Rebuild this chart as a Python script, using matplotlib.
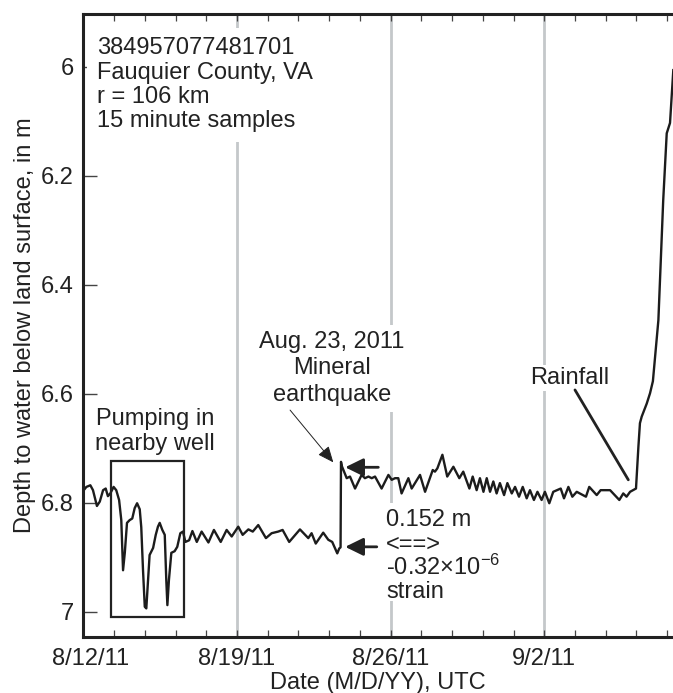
import matplotlib
matplotlib.use('Agg')
import matplotlib.pyplot as plt
from matplotlib.patches import Rectangle
from matplotlib.ticker import MultipleLocator
import matplotlib.transforms as mtransforms

plt.rcParams['font.family'] = ['Liberation Sans', 'DejaVu Sans']
plt.rcParams['mathtext.default'] = 'regular'

# Time in days since 8/12/11 00:00 UTC, depth to water in m
days = [0.00, 0.14, 0.32, 0.44, 0.62, 0.75, 0.90, 1.02, 1.12, 1.23, 1.38, 1.50,
        1.63, 1.73, 1.81, 1.89, 1.99, 2.11, 2.23, 2.34, 2.45, 2.57, 2.64, 2.72,
        2.80, 2.87, 2.95, 3.02, 3.18, 3.30, 3.40, 3.48, 3.60, 3.71, 3.78, 3.83,
        3.90, 4.01, 4.16, 4.28, 4.42, 4.54, 4.65, 4.82, 4.97,
        5.17, 5.39, 5.70, 5.95, 6.26, 6.53, 6.76, 7.06, 7.26, 7.52, 7.72, 7.97,
        8.32, 8.58, 8.88, 9.08, 9.38, 9.87, 10.25, 10.40, 10.59, 10.93, 11.16,
        11.34, 11.57, 11.66, 11.72, 11.74, 11.78,
        12.00, 12.15, 12.38, 12.68, 12.83, 12.99, 13.14, 13.29, 13.59, 13.90,
        14.05, 14.20, 14.35, 14.50, 14.81, 14.96, 15.34, 15.57, 15.92, 16.02,
        16.13, 16.36, 16.58, 16.86, 17.13, 17.31, 17.59, 17.74, 17.92, 18.07,
        18.23, 18.38, 18.53, 18.68, 18.83, 18.98, 19.17, 19.32, 19.52, 19.67,
        19.85, 20.02, 20.20, 20.35, 20.53, 20.69, 20.88, 21.03, 21.23, 21.41,
        21.75, 21.90, 22.10, 22.28, 22.48, 22.90, 23.05, 23.39, 23.57, 24.00,
        24.42, 24.60, 24.75, 24.91, 25.18,
        25.29, 25.36, 25.44, 25.67, 25.82, 25.95, 26.20, 26.42, 26.58, 26.73,
        26.88]
depth = [6.778, 6.771, 6.768, 6.777, 6.806, 6.798, 6.777, 6.774, 6.788, 6.783, 6.771, 6.777,
         6.795, 6.832, 6.924, 6.892, 6.837, 6.832, 6.829, 6.810, 6.801, 6.812, 6.845, 6.924,
         6.991, 6.994, 6.942, 6.896, 6.883, 6.859, 6.844, 6.837, 6.850, 6.859, 6.942, 6.988,
         6.942, 6.892, 6.889, 6.881, 6.856, 6.853, 6.872, 6.869, 6.852,
         6.872, 6.853, 6.873, 6.850, 6.872, 6.850, 6.862, 6.844, 6.859, 6.849, 6.853, 6.841,
         6.865, 6.856, 6.853, 6.850, 6.872, 6.849, 6.865, 6.856, 6.875, 6.855, 6.868,
         6.872, 6.893, 6.884, 6.882, 6.725, 6.733,
         6.755, 6.752, 6.774, 6.749, 6.755, 6.752, 6.755, 6.752, 6.774, 6.749,
         6.758, 6.755, 6.755, 6.783, 6.755, 6.774, 6.749, 6.780, 6.740, 6.743,
         6.737, 6.712, 6.752, 6.734, 6.755, 6.743, 6.774, 6.752, 6.777, 6.755,
         6.780, 6.755, 6.780, 6.761, 6.783, 6.764, 6.786, 6.764, 6.783, 6.771,
         6.789, 6.771, 6.792, 6.777, 6.795, 6.780, 6.795, 6.780, 6.801, 6.780,
         6.774, 6.792, 6.771, 6.789, 6.780, 6.789, 6.771, 6.786, 6.777, 6.777,
         6.795, 6.783, 6.789, 6.780, 6.774,
         6.697, 6.654, 6.642, 6.618, 6.599, 6.577, 6.465, 6.245, 6.122, 6.103,
         6.006]

tick_days = [0, 7, 14, 21]
tick_labels = ['8/12/11', '8/19/11', '8/26/11', '9/2/11']
y_ticks = [6.0, 6.2, 6.4, 6.6, 6.8, 7.0]
y_tick_labels = ['6', '6.2', '6.4', '6.6', '6.8', '7']

TXT = '#222222'
FS = 17

fig = plt.figure(figsize=(6.73, 6.93), dpi=100)
ax = fig.add_axes([0.1238, 0.0812, 0.8762, 0.8986])

for d in tick_days:
    ax.axvline(d, color='#c4c8ca', lw=2.0, zorder=0.5)

ax.plot(days, depth, color='#1c1c1c', lw=1.7, zorder=2)

ax.set_xlim(0, 26.866)
ax.set_ylim(7.046, 5.903)

ax.set_xticks(tick_days)
ax.set_xticklabels(tick_labels)
ax.xaxis.set_minor_locator(MultipleLocator(1.4))
ax.set_yticks(y_ticks)
ax.set_yticklabels(y_tick_labels)
ax.tick_params(axis='x', which='both', direction='in', top=True, bottom=True,
               length=5, width=0.9, color='#444444', pad=8, labelsize=FS,
               labelcolor=TXT)
ax.tick_params(axis='y', which='major', direction='in', left=True, right=False,
               length=10, width=1.0, color='#444444', pad=7, labelsize=FS,
               labelcolor=TXT)

for s in ['left', 'top', 'bottom']:
    ax.spines[s].set_linewidth(2.2)
    ax.spines[s].set_color('#222222')
ax.spines['right'].set_visible(False)

first = ax.get_xticklabels()[0]
first.set_transform(first.get_transform() +
                    mtransforms.ScaledTranslation(7 / 100, 0, fig.dpi_scale_trans))

ax.set_xlabel('Date (M/D/YY), UTC', fontsize=FS, color=TXT, labelpad=1.5)
ax.set_ylabel('Depth to water below land surface, in m', fontsize=FS, color=TXT,
              labelpad=3)

white = dict(facecolor='white', edgecolor='none')

ax.text(0.624, 5.946, '384957077481701\nFauquier County, VA\nr = 106 km\n15 minute samples',
        ha='left', va='top', fontsize=FS, color=TXT, linespacing=1.13,
        bbox=dict(white, pad=7), zorder=3)

ax.add_patch(Rectangle((1.27, 6.7235), 4.59 - 1.27, 7.010 - 6.7235,
                       fill=False, edgecolor='#222222', lw=1.6, zorder=2))
ax.text(3.27, 6.669, 'Pumping in\nnearby well', ha='center', va='center',
        fontsize=FS, color=TXT, linespacing=1.19, zorder=3)

ax.text(11.33, 6.553, 'Aug. 23, 2011\nMineral\nearthquake', ha='center', va='center',
        multialignment='center', fontsize=FS, color=TXT, linespacing=1.26,
        bbox=dict(white, pad=4.5), zorder=3)
ax.annotate('', xy=(11.39, 6.726), xytext=(9.42, 6.630),
            arrowprops=dict(arrowstyle='-|>,head_length=0.7,head_width=0.3',
                            lw=0.7, color='#222222', shrinkA=0, shrinkB=0,
                            mutation_scale=14), zorder=3)

for yv, x_tail in [(6.735, 13.44), (6.881, 13.37)]:
    ax.annotate('', xy=(11.93, yv), xytext=(x_tail, yv),
                arrowprops=dict(arrowstyle='-|>,head_length=0.55,head_width=0.27',
                                lw=2.0, color='#222222', shrinkA=0, shrinkB=0,
                                mutation_scale=20), zorder=3)

# white backing that breaks the 8/26 grid line behind the strain note
ax.add_patch(Rectangle((13.62, 6.8007), 2.6, 6.9813 - 6.8007,
                       facecolor='white', edgecolor='none', zorder=1))
strain_lines = ['0.152 m', '<==>', '-0.32×10$^{-6}$', 'strain']
strain_base = [6.8435, 6.8886, 6.9327, 6.9754]
for s, yb in zip(strain_lines, strain_base):
    ax.text(13.80, yb, s, ha='left', va='baseline', fontsize=FS, color=TXT, zorder=3)

ax.text(22.17, 6.571, 'Rainfall', ha='center', va='center', fontsize=FS, color=TXT,
        bbox=dict(white, pad=1.5), zorder=3)
ax.annotate('', xy=(24.83, 6.758), xytext=(22.40, 6.593),
            arrowprops=dict(arrowstyle='-', lw=2.0, color='#222222',
                            shrinkA=0, shrinkB=0), zorder=3)

fig.savefig('out.png', dpi=100)
